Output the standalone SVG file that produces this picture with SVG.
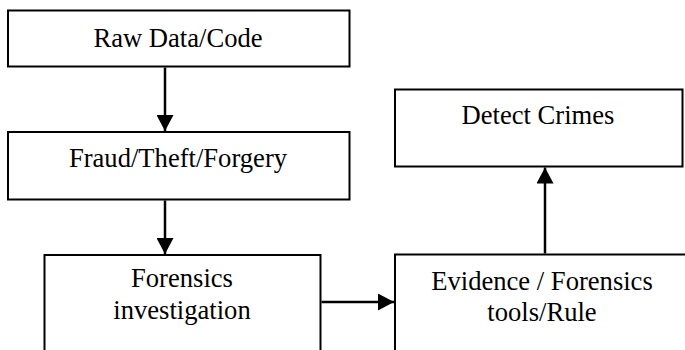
<svg xmlns="http://www.w3.org/2000/svg" width="685" height="350" viewBox="0 0 685 350">
<defs>
<style>
.box{fill:#fff;stroke:#000;stroke-width:2}
.lbl{font-family:"Liberation Serif","Times New Roman",serif;font-size:26.6px;fill:#000;text-anchor:middle}
.con{stroke:#000;stroke-width:2.5;fill:none}
</style>
<marker id="ah" markerUnits="userSpaceOnUse" markerWidth="16" markerHeight="17" refX="16" refY="8.5" orient="auto">
<path d="M0,0 L16,8.5 L0,17 Z" fill="#000"/>
</marker>
</defs>
<rect width="685" height="350" fill="#fff"/>
<g id="node-raw">
<rect class="box" x="8" y="10.5" width="341.5" height="56"/>
<text class="lbl" x="178" y="47">Raw Data/Code</text>
</g>
<g id="node-fraud">
<rect class="box" x="8" y="132" width="341.5" height="67.5"/>
<text class="lbl" x="178" y="167">Fraud/Theft/Forgery</text>
</g>
<g id="node-forensics">
<rect class="box" x="44.5" y="255" width="276" height="130"/>
<text class="lbl" x="182" y="287">Forensics</text>
<text class="lbl" x="182" y="319">investigation</text>
</g>
<g id="node-evidence">
<rect class="box" x="395" y="254.5" width="310" height="130"/>
<text class="lbl" x="542" y="290">Evidence / Forensics</text>
<text class="lbl" x="542" y="321">tools/Rule</text>
</g>
<g id="node-detect">
<rect class="box" x="395" y="89.5" width="287.5" height="77"/>
<text class="lbl" x="538" y="124">Detect Crimes</text>
</g>
<g id="connectors">
<line class="con" x1="165" y1="67.5" x2="165" y2="131" marker-end="url(#ah)"/>
<line class="con" x1="165" y1="200.5" x2="165" y2="254" marker-end="url(#ah)"/>
<line class="con" x1="321.5" y1="302" x2="394" y2="302" marker-end="url(#ah)"/>
<line class="con" x1="545" y1="253.5" x2="545" y2="167.5" marker-end="url(#ah)"/>
</g>
</svg>
